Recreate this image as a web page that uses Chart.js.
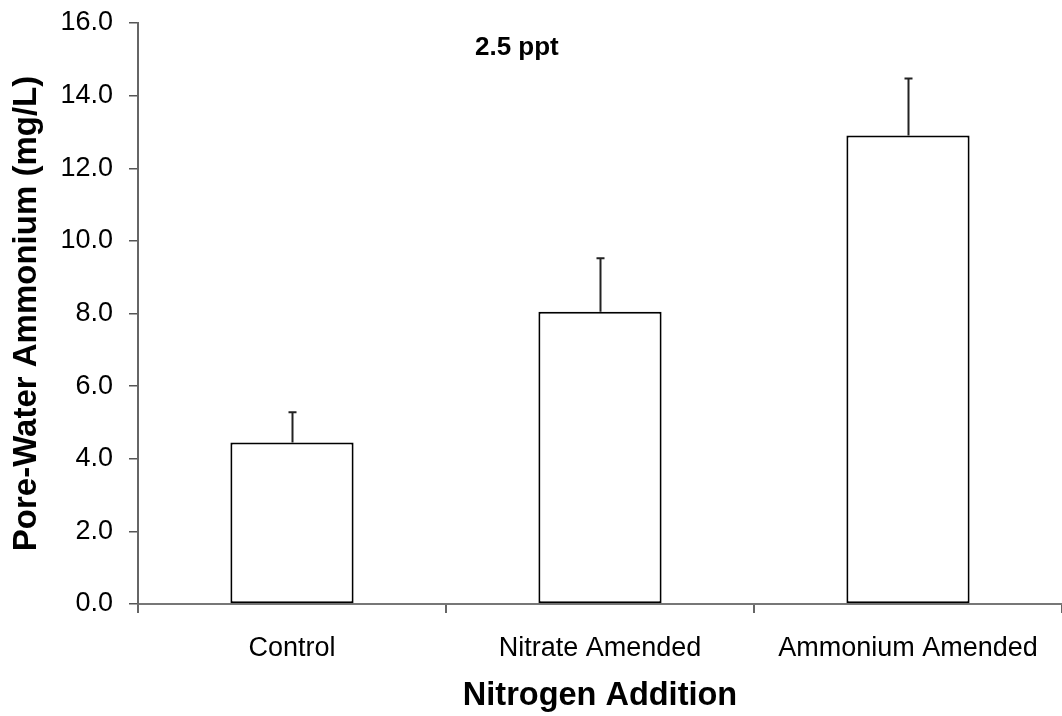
<!DOCTYPE html>
<html>
<head>
<meta charset="utf-8">
<script src="https://cdn.jsdelivr.net/npm/chart.js@4/dist/chart.umd.min.js"></script>
<style>
  html, body { margin: 0; padding: 0; background: #fff; }
  canvas { display: block; }
</style>
</head>
<body>
<canvas id="chart" width="1062" height="716"></canvas>
<script>
// Pore-water ammonium by nitrogen treatment (2.5 ppt salinity)
const categories = ["Control", "Nitrate Amended", "Ammonium Amended"];
const means = [4.45, 8.05, 12.9];
const errors = [0.83, 1.47, 1.57];
const yTicks = [0, 2, 4, 6, 8, 10, 12, 14, 16];
const panelLabel = "2.5 ppt";

const FONT = "'Liberation Sans', Arial, Helvetica, sans-serif";

// Upper error bars drawn from each bar's top
const errorBarPlugin = {
  id: "errorBars",
  afterDatasetsDraw(chart) {
    const ctx = chart.ctx;
    const meta = chart.getDatasetMeta(0);
    const yScale = chart.scales.y;
    ctx.save();
    ctx.strokeStyle = "#222";
    ctx.lineWidth = 2;
    meta.data.forEach((bar, i) => {
      const x = Math.round(bar.x) + 0.5;
      const yTop = yScale.getPixelForValue(means[i] + errors[i]);
      const yBase = yScale.getPixelForValue(means[i]);
      ctx.beginPath();
      ctx.moveTo(x, yBase);
      ctx.lineTo(x, yTop);
      ctx.moveTo(x - 4, yTop);
      ctx.lineTo(x + 4, yTop);
      ctx.stroke();
    });
    ctx.restore();
  }
};

// Salinity label inside the plot area
const panelLabelPlugin = {
  id: "panelLabel",
  afterDraw(chart) {
    const { ctx, chartArea } = chart;
    ctx.save();
    ctx.font = "bold 26px " + FONT;
    ctx.fillStyle = "#000";
    ctx.textAlign = "center";
    ctx.textBaseline = "middle";
    const x = chartArea.left + 0.41 * (chartArea.right - chartArea.left);
    const y = chart.scales.y.getPixelForValue(15.33);
    ctx.fillText(panelLabel, x, y);
    ctx.restore();
  }
};

new Chart(document.getElementById("chart"), {
  type: "bar",
  data: {
    labels: categories,
    datasets: [{
      data: means,
      backgroundColor: "#ffffff",
      borderColor: "#000000",
      borderWidth: 2,
      borderSkipped: false,
      categoryPercentage: 1.0,
      barPercentage: 0.4
    }]
  },
  options: {
    responsive: false,
    animation: false,
    devicePixelRatio: 1,
    layout: { padding: { top: 23, right: 0, bottom: 0, left: 0 } },
    plugins: {
      legend: { display: false },
      tooltip: { enabled: false }
    },
    scales: {
      x: {
        offset: true,
        grid: {
          offset: true,
          drawOnChartArea: false,
          drawTicks: true,
          tickLength: 9,
          color: "#666",
          lineWidth: 2
        },
        border: { display: true, color: "#777", width: 2 },
        ticks: {
          color: "#000",
          padding: 19,
          maxRotation: 0,
          font: { family: FONT, size: 27 }
        },
        title: {
          display: true,
          text: "Nitrogen Addition",
          color: "#000",
          font: { family: FONT, size: 32.5, weight: "bold" },
          padding: { top: 0, bottom: 0 }
        },
        afterFit(scale) {
          scale.height = 112;
          scale.paddingLeft = 0;
          scale.paddingRight = 0;
        }
      },
      y: {
        min: 0,
        max: 16,
        afterBuildTicks(scale) {
          scale.ticks = yTicks.map(v => ({ value: v }));
        },
        grid: {
          drawOnChartArea: false,
          drawTicks: true,
          tickLength: 9,
          color: "#555",
          lineWidth: 1.5
        },
        border: { display: true, color: "#666", width: 2 },
        ticks: {
          color: "#000",
          padding: 16,
          font: { family: FONT, size: 27 },
          callback: v => Number(v).toFixed(1)
        },
        title: {
          display: true,
          text: "Pore-Water Ammonium (mg/L)",
          color: "#000",
          font: { family: FONT, size: 33, weight: "bold" },
          padding: { top: 7, bottom: 0 }
        },
        afterFit(scale) {
          scale.width = 138;
          scale.paddingTop = 0;
          scale.paddingBottom = 0;
        }
      }
    }
  },
  plugins: [errorBarPlugin, panelLabelPlugin]
});
</script>
</body>
</html>
